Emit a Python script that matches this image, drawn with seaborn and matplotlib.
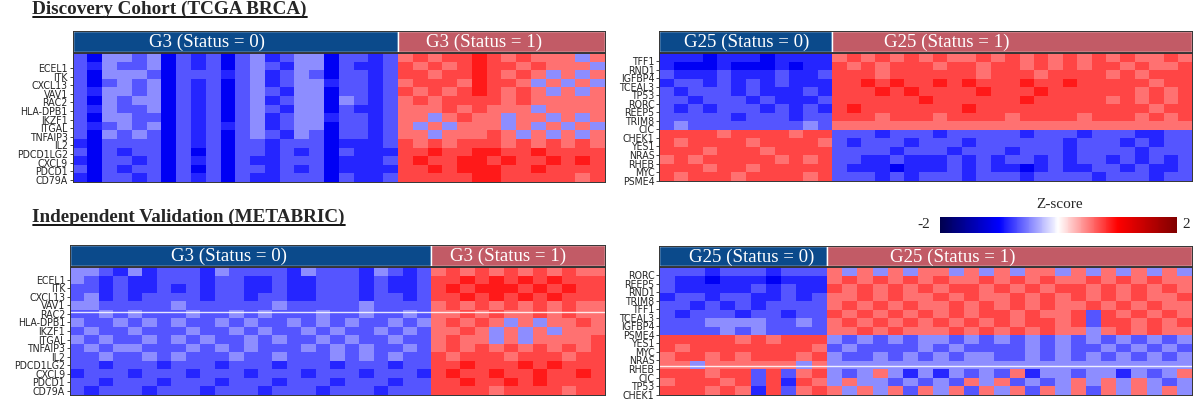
import numpy as np
import seaborn as sns
import matplotlib
matplotlib.use("Agg")
import matplotlib.pyplot as plt
from matplotlib.lines import Line2D
from matplotlib import font_manager

sns.set_style("white")
plt.rcParams['font.family'] = ['DejaVu Sans']

SERIF = ['Liberation Serif', 'DejaVu Serif']
BLUE = '#0b4a8b'
PINK = '#c25b66'

# Z-score levels, one digit per block (see LEVELS)
# rows = gene bands, columns = sample blocks (Status 0 | Status 1)
LEVELS = {'0': -1.05, '1': -0.85, '2': -0.66, '3': -0.45, '4': 0.0,
          '5': 0.55, '6': 0.72, '7': 0.9, '8': 1.2}

TL_S0 = ["2033230212023123302212", "2132230212023213302112", "2033320222123123202212",
         "2023230212023123312212", "2133230212023213302212", "2032330212023123303212",
         "2132230212023213302112", "2033220212023123312212", "2123230212123123302212",
         "2032320212023213202212", "1022220212022122201112", "2021220202022121202111",
         "1022120212021122201112", "2021220202022121201111", "1022120212021122202112"]
TL_S1 = ["56566765655535", "65656766565553", "66566765653535", "56665766535353",
         "65656765653535", "56566665655555", "55565655535555", "55356553553535",
         "53535553535353", "55355565353535", "65656665656565", "66766776676666",
         "67667767667676", "66767776676666", "66666776666656"]

TR_S0 = ["111011101111", "100010001011", "211121112112", "122121212111",
         "212221211121", "221222121112", "212122212121", "222221222122",
         "232222222232", "666656666566", "656666566665", "666566656666",
         "565666665656", "666566566666", "656665666656"]
TR_S1 = ["5656565655656565656565565", "6565666566566565656656556",
         "6665666666566656666565666", "6676766767666766766666566",
         "6667676666766676666665656", "6666667666666766666565656",
         "6766666667666666666666566", "6665666566665666656665656",
         "5555555555555555555555555", "2221222122222122212221122",
         "2122212221222222122212122", "2222122212221222122221222",
         "2211211121212212122121212", "2111011121211012112212112",
         "2221212221222122221222122"]

BL_S0 = ["3321312221322221322213212", "3212112221221121122212112",
         "2212112121221121122212112", "2312122221221221122212212",
         "3322222322222232222232222", "2232322232232322232232232",
         "3223232322323223232322323", "2322322232232322323223232",
         "3232232323223232232322322", "2323322232323222323232232",
         "2232232322232232223232322", "2212221222122212221222122",
         "1222122212221222122212221", "2212221222122212221222122",
         "2122212221222122212221222"]
BL_S1 = ["565656565655", "667676767666", "676777676766", "667676767666",
         "565656565655", "556565565655", "565653535565", "556535353555",
         "565535355556", "565656565656", "656665666566", "667666767666",
         "676676676676", "667667676666", "666656666566"]

BR_S0 = ["22212221222", "21101110111", "21111121211", "12212211212",
         "22121212222", "21222122122", "22233332232", "22223232222",
         "66666565666", "65666666665", "56656566656", "55355555535",
         "66656626256", "56665626165", "66656516256"]
BR_S1 = ["535353553535355353535353", "565656565565656556565655",
         "656565656656565665656565", "556565565655656565656556",
         "565656556565656556565655", "656565656566565562656565",
         "565656565656566562665656", "556565556565656553565655",
         "323232332323232323232323", "232222323222232322323232",
         "322323232332232323232323", "333333333333333333333333",
         "323531313232513323313235", "353323232535232353535323",
         "535352535253525352535353"]

G3_GENES = ['ECEL1', 'ITK', 'CXCL13', 'VAV1', 'RAC2', 'HLA-DPB1', 'IKZF1', 'ITGAL',
            'TNFAIP3', 'IL2', 'PDCD1LG2', 'CXCL9', 'PDCD1', 'CD79A']
TR_GENES = ['TFF1', 'RND1', 'IGFBP4', 'TCEAL3', 'TP53', 'RORC', 'REEP5', 'TRIM8',
            'CIC', 'CHEK1', 'YES1', 'NRAS', 'RHEB', 'MYC', 'PSME4']
BR_GENES = ['RORC', 'REEP5', 'RND1', 'TRIM8', 'TFF1', 'TCEAL3', 'IGFBP4', 'PSME4',
            'YES1', 'MYC', 'NRAS', 'RHEB', 'CIC', 'TP53', 'CHEK1']

# white gaps between row clusters (row position)
BL_GAPS = [5.25]
BR_GAPS = [11.6]


def decode(s0, s1):
    rows = [a + b for a, b in zip(s0, s1)]
    return np.array([[LEVELS[c] for c in r] for r in rows])


# condensed sans for gene names if there is one
fonts = font_manager.fontManager.ttflist
if any(f.name == 'DejaVu Sans' and f.stretch == 'condensed' for f in fonts):
    GENE_FONT = dict(family='DejaVu Sans', fontstretch='condensed', fontsize=7.6)
elif any(f.name == 'Liberation Sans Narrow' for f in fonts):
    GENE_FONT = dict(family='Liberation Sans Narrow', fontsize=8)
else:
    GENE_FONT = dict(family='DejaVu Sans', fontsize=7)

fig = plt.figure(figsize=(12, 4.05), dpi=100)
W, H = 1200.0, 405.0


def rect(x0, x1, y0, y1):
    return [x0 / W, 1 - y1 / H, (x1 - x0) / W, (y1 - y0) / H]


# (s0, s1, genes, tick pos, gaps, group, heat box, header box, text fractions)
panels = [
    (TL_S0, TL_S1, G3_GENES, np.arange(1, 15) + 0.75, [], 'G3',
     (72.7, 605, 53, 182), (72.7, 605, 31, 52), (0.414, 0.418)),
    (TR_S0, TR_S1, TR_GENES, np.arange(15) + 0.95, [], 'G25',
     (659.3, 1192.4, 53, 181), (659.3, 1192.4, 31, 52), (0.503, 0.319)),
    (BL_S0, BL_S1, G3_GENES, np.arange(1, 15) + 0.5, BL_GAPS, 'G3',
     (70, 605, 267, 395), (70, 605, 245, 266), (0.44, 0.444)),
    (BR_S0, BR_S1, BR_GENES, np.arange(15) + 0.95, BR_GAPS, 'G25',
     (659.3, 1192.4, 267, 395), (659.3, 1192.4, 246, 266), (0.55, 0.345)),
]

mappable = None
for s0, s1, genes, ypos, gaps, grp, hbox, tbox, fr in panels:
    data = decode(s0, s1)
    n0, n1 = len(s0[0]), len(s1[0])
    ax = fig.add_axes(rect(*hbox))
    sns.heatmap(data, ax=ax, cmap='seismic', vmin=-2, vmax=2, cbar=False,
                xticklabels=False, yticklabels=False)
    mappable = ax.collections[0]
    for g in gaps:
        ax.axhline(g, color='white', lw=1.0, alpha=0.85)
    ax.set_yticks(ypos)
    ax.set_yticklabels(genes, **GENE_FONT)
    ax.tick_params(axis='y', length=2.5, width=0.6, pad=1, left=True)
    ax.set_xticks([])
    for sp in ax.spines.values():
        sp.set_visible(True)
        sp.set_color('#333333')
        sp.set_linewidth(0.7)

    hax = fig.add_axes(rect(*tbox))
    hax.barh(0, n0, left=0, height=1, color=BLUE)
    hax.barh(0, n1, left=n0, height=1, color=PINK)
    hax.set_xlim(0, n0 + n1)
    hax.set_ylim(-0.5, 0.5)
    hax.set_xticks([])
    hax.set_yticks([])
    for sp in hax.spines.values():
        sp.set_color('#333333')
        sp.set_linewidth(0.7)
    hax.text(n0 * fr[0], -0.05, f'{grp} (Status = 0)', color='white',
             ha='center', va='center', fontsize=13.6, family=SERIF)
    hax.text(n0 + n1 * fr[1], -0.05, f'{grp} (Status = 1)', color='white',
             ha='center', va='center', fontsize=13.6, family=SERIF)

# colour bar
cax = fig.add_axes(rect(939.5, 1177, 217, 233))
cb = fig.colorbar(mappable, cax=cax, orientation='horizontal')
cb.set_ticks([])
cb.outline.set_visible(False)
fig.text(1060 / W, 1 - 205 / H, 'Z-score', ha='center', va='center',
         fontsize=11, family=SERIF)
fig.text(924 / W, 1 - 225 / H, '-2', ha='center', va='center',
         fontsize=11, family=SERIF)
fig.text(1186 / W, 1 - 225 / H, '2', ha='center', va='center',
         fontsize=11, family=SERIF)

# section titles, underlined
titles = []
for label, ytop in [('Discovery Cohort (TCGA BRCA)', 1),
                    ('Independent Validation (METABRIC)', 209)]:
    t = fig.text(32.5 / W, 1 - ytop / H, label, ha='left', va='top',
                 fontsize=13.8, fontweight='bold', family=SERIF)
    titles.append(t)

fig.canvas.draw()
renderer = fig.canvas.get_renderer()
for t in titles:
    bb = t.get_window_extent(renderer).transformed(fig.transFigure.inverted())
    yline = bb.y0 + 0.003
    fig.add_artist(Line2D([bb.x0, bb.x1], [yline, yline], color='black',
                          lw=1.3, transform=fig.transFigure))

fig.savefig('out.png', dpi=100)
